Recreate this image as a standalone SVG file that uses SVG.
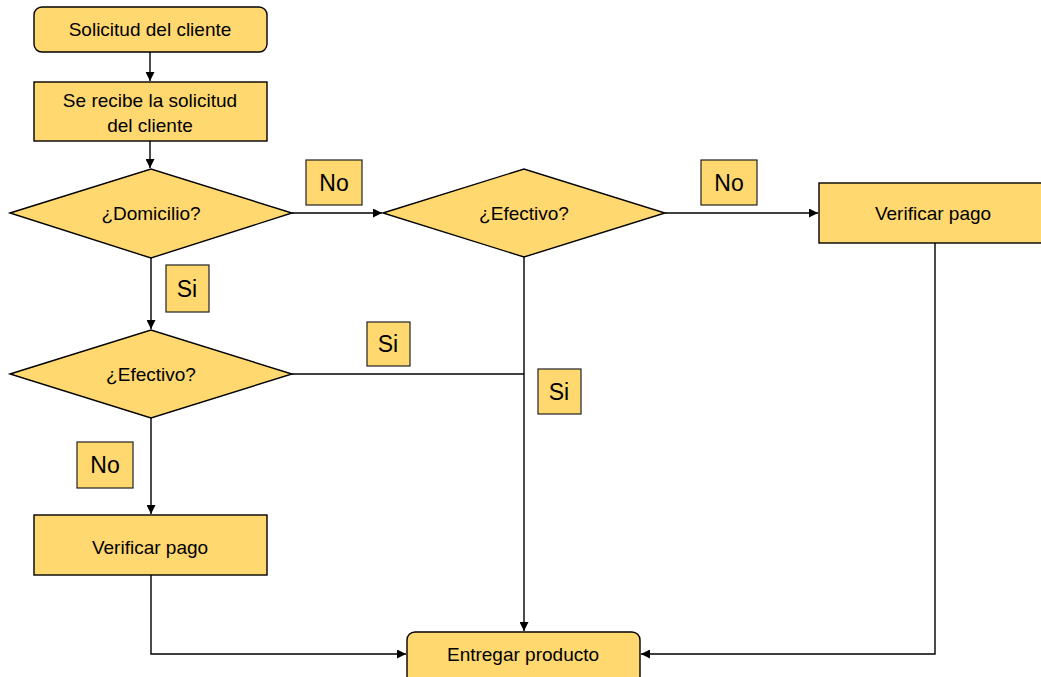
<svg xmlns="http://www.w3.org/2000/svg" width="1041" height="677" viewBox="0 0 1041 677">
<defs>
<marker id="arr" viewBox="0 0 10 10" refX="10" refY="5" markerWidth="9" markerHeight="9" markerUnits="userSpaceOnUse" orient="auto"><path d="M0,0 L10,5 L0,10 z" fill="#000"/></marker>
<style>
.shape{fill:#FFD86F;stroke:#000;stroke-width:1.4}
.lbl{fill:#FFD86F;stroke:#222;stroke-width:1.2}
.t{font-family:"Liberation Sans",Arial,sans-serif;font-size:19px;fill:#000;text-anchor:middle;dominant-baseline:central}
.tl{font-family:"Liberation Sans",Arial,sans-serif;font-size:23px;fill:#000;text-anchor:middle;dominant-baseline:central}
.c{fill:none;stroke:#000;stroke-width:1.4}
</style>
</defs>
<rect width="1041" height="677" fill="#fff"/>
<g id="connectors">
<path class="c" d="M150,52 V81" marker-end="url(#arr)"/>
<path class="c" d="M150,141 V168" marker-end="url(#arr)"/>
<path class="c" d="M292,213 H382" marker-end="url(#arr)"/>
<path class="c" d="M665,213 H818" marker-end="url(#arr)"/>
<path class="c" d="M151,258 V329" marker-end="url(#arr)"/>
<path class="c" d="M292,374 H524"/>
<path class="c" d="M524,257 V631" marker-end="url(#arr)"/>
<path class="c" d="M151,418 V514" marker-end="url(#arr)"/>
<path class="c" d="M151,575 V654 H406" marker-end="url(#arr)"/>
<path class="c" d="M935,243 V654 H641" marker-end="url(#arr)"/>
</g>
<g id="n1"><rect class="shape" x="34" y="7" width="233" height="45" rx="8"/><text class="t" x="150" y="29">Solicitud del cliente</text></g>
<g id="n2"><rect class="shape" x="34" y="82" width="233" height="59"/><text class="t" x="150" y="100">Se recibe la solicitud </text><text class="t" x="150" y="125">del cliente</text></g>
<g id="d1"><polygon class="shape" points="10,213 151,169 292,213 151,258"/><text class="t" x="151" y="213">¿Domicilio?</text></g>
<g id="d2"><polygon class="shape" points="383,213 524,169 665,213 524,257"/><text class="t" x="524" y="213">¿Efectivo?</text></g>
<g id="n3"><rect class="shape" x="819" y="183" width="230" height="60"/><text class="t" x="933" y="213">Verificar pago</text></g>
<g id="d3"><polygon class="shape" points="10,374 151,330 292,374 151,418"/><text class="t" x="151" y="374">¿Efectivo?</text></g>
<g id="n4"><rect class="shape" x="34" y="515" width="233" height="60"/><text class="t" x="150" y="547">Verificar pago</text></g>
<g id="n5"><rect class="shape" x="407" y="632" width="233" height="52" rx="8"/><text class="t" x="523" y="654">Entregar producto</text></g>
<g id="l1"><rect class="lbl" x="306" y="160" width="56" height="45"/><text class="tl" x="334" y="183">No</text></g>
<g id="l2"><rect class="lbl" x="701" y="160" width="56" height="45"/><text class="tl" x="729" y="183">No</text></g>
<g id="l3"><rect class="lbl" x="166" y="265" width="43" height="47"/><text class="tl" x="187" y="289">Si</text></g>
<g id="l4"><rect class="lbl" x="367" y="322" width="43" height="44"/><text class="tl" x="388" y="344">Si</text></g>
<g id="l5"><rect class="lbl" x="538" y="369" width="43" height="45"/><text class="tl" x="559" y="392">Si</text></g>
<g id="l6"><rect class="lbl" x="77" y="442" width="56" height="46"/><text class="tl" x="105" y="465">No</text></g>
</svg>
